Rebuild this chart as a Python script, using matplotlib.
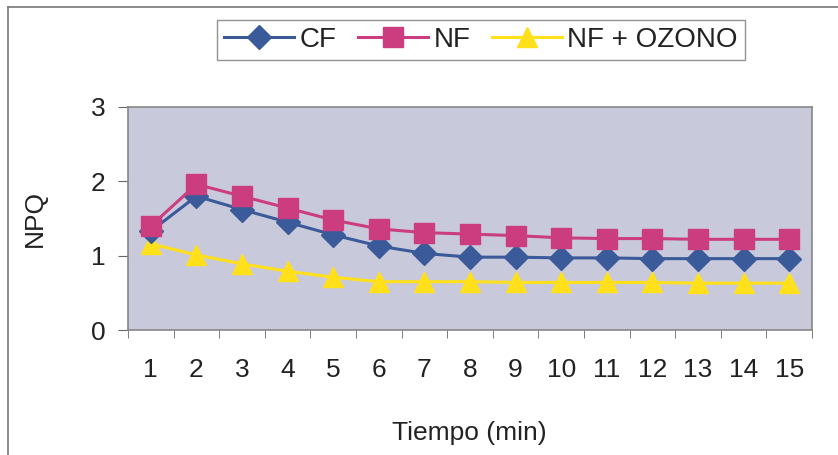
import matplotlib
matplotlib.use("Agg")
import matplotlib.pyplot as plt
from matplotlib.lines import Line2D

plt.rcParams['font.family'] = ['Liberation Sans', 'DejaVu Sans']

tiempo = list(range(1, 16))
cf = [1.33, 1.80, 1.62, 1.45, 1.28, 1.13, 1.03, 0.98, 0.98, 0.97, 0.97, 0.96, 0.96, 0.96, 0.96]
nf = [1.40, 1.96, 1.80, 1.64, 1.48, 1.36, 1.31, 1.29, 1.27, 1.24, 1.23, 1.23, 1.22, 1.22, 1.22]
nf_oz = [1.16, 1.01, 0.89, 0.79, 0.71, 0.65, 0.65, 0.65, 0.64, 0.64, 0.64, 0.64, 0.63, 0.63, 0.63]
series_names = ['CF', 'NF', 'NF + OZONO']

fig = plt.figure(figsize=(8.38, 4.55), dpi=100)
ax = fig.add_axes([128/838, 1-330/455, (812-128)/838, (330-107)/455])
ax.set_facecolor('#c9c9dc')

c_cf = '#3a5a9a'
c_nf = '#cc3d80'
c_oz = '#ffe01a'
ax.plot(tiempo, nf_oz, color=c_oz, lw=2.2, marker='^', ms=14, mec=c_oz, mfc=c_oz, zorder=3, label=series_names[2])
ax.plot(tiempo, cf, color=c_cf, lw=2.2, marker='D', ms=12, mec=c_cf, mfc=c_cf, zorder=4, label=series_names[0])
ax.plot(tiempo, nf, color=c_nf, lw=2.2, marker='s', ms=14, mec=c_nf, mfc=c_nf, zorder=5, label=series_names[1])

ax.set_xlim(0.5, 15.5)
ax.set_ylim(0, 3)
ax.set_yticks([0, 1, 2, 3])
ax.set_xticks(tiempo)
ax.set_xticklabels([str(t) for t in tiempo])
ax.set_xticks([t + 0.5 for t in range(0, 16)], minor=True)
ax.tick_params(axis='x', which='major', length=0, labelsize=19, pad=20, colors='#222222')
ax.tick_params(axis='x', which='minor', length=6, direction='out', color='#666666')
ax.tick_params(axis='y', which='major', length=7, direction='out', labelsize=19, pad=9, colors='#222222')
ax.tick_params(axis='y', colors='#222222', color='#666666')
for s in ax.spines.values():
    s.set_color('#888888')
    s.set_linewidth(1.2)

ax.set_ylabel('NPQ', fontsize=19, color='#222222')
ax.yaxis.set_label_coords(-(128-47)/684, 0.5)
ax.set_xlabel('Tiempo (min)', fontsize=19, color='#222222')
ax.xaxis.set_label_coords((469-128)/684, -(421-330)/223)

handles = [
    Line2D([0], [0], color=c_cf, lw=2.2, marker='D', ms=12, mfc=c_cf, mec=c_cf),
    Line2D([0], [0], color=c_nf, lw=2.2, marker='s', ms=14, mfc=c_nf, mec=c_nf),
    Line2D([0], [0], color=c_oz, lw=2.2, marker='^', ms=14, mfc=c_oz, mec=c_oz),
]
leg = fig.legend(handles, series_names, loc='center', bbox_to_anchor=(481/838, 1-40/455),
                 ncol=3, fontsize=20, frameon=True, fancybox=False, handlelength=2.5,
                 handletextpad=0.2, columnspacing=0.8, borderpad=0.25, edgecolor='#777777')
leg.get_frame().set_linewidth(1.0)
for t in leg.get_texts():
    t.set_color('#222222')

# outer frame lines
fig.add_artist(Line2D([8/838, 8/838], [0, 1-7/455], transform=fig.transFigure, color='#777777', lw=1.2))
fig.add_artist(Line2D([8/838, 1], [1-7/455, 1-7/455], transform=fig.transFigure, color='#777777', lw=1.2))

fig.savefig('out.png', dpi=100)
